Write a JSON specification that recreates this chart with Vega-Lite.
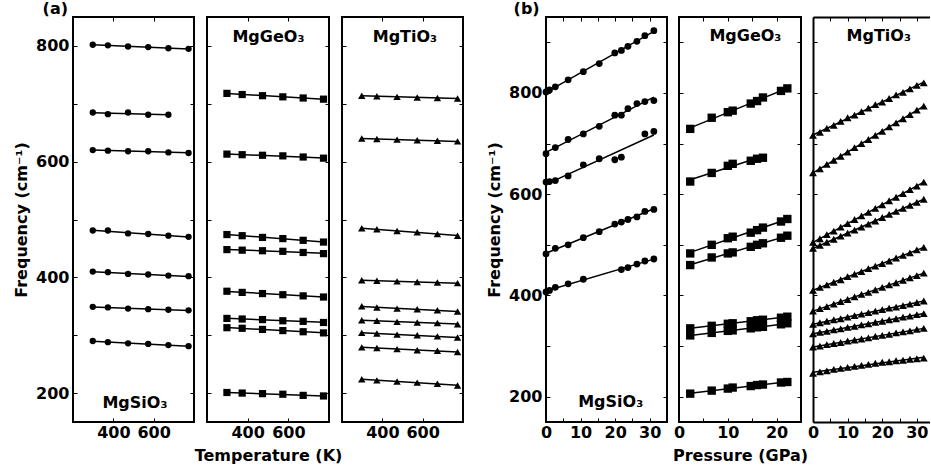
{
"$schema": "https://vega.github.io/schema/vega-lite/v6.json",
"padding": {"left": 12, "top": 0, "right": 0, "bottom": 0},
"datasets": {
"aSi": [
{"s":1,"x":298,"y":802},{"s":1,"x":373,"y":801},{"s":1,"x":473,"y":799},{"s":1,"x":573,"y":798},{"s":1,"x":673,"y":796},{"s":1,"x":773,"y":795},
{"s":2,"x":298,"y":685},{"s":2,"x":373,"y":682},{"s":2,"x":473,"y":685},{"s":2,"x":573,"y":681},{"s":2,"x":673,"y":681},
{"s":3,"x":298,"y":620},{"s":3,"x":373,"y":619},{"s":3,"x":473,"y":618},{"s":3,"x":573,"y":618},{"s":3,"x":673,"y":616},{"s":3,"x":773,"y":615},
{"s":4,"x":298,"y":481},{"s":4,"x":373,"y":481},{"s":4,"x":473,"y":476},{"s":4,"x":573,"y":475},{"s":4,"x":673,"y":472},{"s":4,"x":773,"y":470},
{"s":5,"x":298,"y":410},{"s":5,"x":373,"y":409},{"s":5,"x":473,"y":406},{"s":5,"x":573,"y":405},{"s":5,"x":673,"y":403},{"s":5,"x":773,"y":402},
{"s":6,"x":298,"y":349},{"s":6,"x":373,"y":348},{"s":6,"x":473,"y":346},{"s":6,"x":573,"y":345},{"s":6,"x":673,"y":344},{"s":6,"x":773,"y":343},
{"s":7,"x":298,"y":290},{"s":7,"x":373,"y":288},{"s":7,"x":473,"y":286},{"s":7,"x":573,"y":285},{"s":7,"x":673,"y":283},{"s":7,"x":773,"y":281}
],
"aGe": [
{"s":1,"x":298,"y":718},{"s":1,"x":373,"y":716},{"s":1,"x":473,"y":714},{"s":1,"x":573,"y":712},{"s":1,"x":673,"y":710},{"s":1,"x":773,"y":708},
{"s":2,"x":298,"y":613},{"s":2,"x":373,"y":612},{"s":2,"x":473,"y":611},{"s":2,"x":573,"y":610},{"s":2,"x":673,"y":608},{"s":2,"x":773,"y":606},
{"s":3,"x":298,"y":474},{"s":3,"x":373,"y":472},{"s":3,"x":473,"y":469},{"s":3,"x":573,"y":467},{"s":3,"x":673,"y":464},{"s":3,"x":773,"y":461},
{"s":4,"x":298,"y":448},{"s":4,"x":373,"y":447},{"s":4,"x":473,"y":446},{"s":4,"x":573,"y":445},{"s":4,"x":673,"y":443},{"s":4,"x":773,"y":441},
{"s":5,"x":298,"y":376},{"s":5,"x":373,"y":374},{"s":5,"x":473,"y":372},{"s":5,"x":573,"y":370},{"s":5,"x":673,"y":368},{"s":5,"x":773,"y":366},
{"s":6,"x":298,"y":329},{"s":6,"x":373,"y":328},{"s":6,"x":473,"y":327},{"s":6,"x":573,"y":325},{"s":6,"x":673,"y":324},{"s":6,"x":773,"y":322},
{"s":7,"x":298,"y":313},{"s":7,"x":373,"y":312},{"s":7,"x":473,"y":310},{"s":7,"x":573,"y":308},{"s":7,"x":673,"y":306},{"s":7,"x":773,"y":304},
{"s":8,"x":298,"y":201},{"s":8,"x":373,"y":200},{"s":8,"x":473,"y":199},{"s":8,"x":573,"y":198},{"s":8,"x":673,"y":196},{"s":8,"x":773,"y":195}
],
"aTi": [
{"s":1,"x":298,"y":714},{"s":1,"x":373,"y":713},{"s":1,"x":473,"y":712},{"s":1,"x":573,"y":711},{"s":1,"x":673,"y":710},{"s":1,"x":773,"y":709},
{"s":2,"x":298,"y":640},{"s":2,"x":373,"y":639},{"s":2,"x":473,"y":638},{"s":2,"x":573,"y":637},{"s":2,"x":673,"y":636},{"s":2,"x":773,"y":635},
{"s":3,"x":298,"y":485},{"s":3,"x":373,"y":483},{"s":3,"x":473,"y":480},{"s":3,"x":573,"y":478},{"s":3,"x":673,"y":475},{"s":3,"x":773,"y":472},
{"s":4,"x":298,"y":395},{"s":4,"x":373,"y":394},{"s":4,"x":473,"y":393},{"s":4,"x":573,"y":392},{"s":4,"x":673,"y":391},{"s":4,"x":773,"y":390},
{"s":5,"x":298,"y":350},{"s":5,"x":373,"y":348},{"s":5,"x":473,"y":346},{"s":5,"x":573,"y":345},{"s":5,"x":673,"y":343},{"s":5,"x":773,"y":341},
{"s":6,"x":298,"y":326},{"s":6,"x":373,"y":325},{"s":6,"x":473,"y":323},{"s":6,"x":573,"y":322},{"s":6,"x":673,"y":321},{"s":6,"x":773,"y":319},
{"s":7,"x":298,"y":304},{"s":7,"x":373,"y":303},{"s":7,"x":473,"y":301},{"s":7,"x":573,"y":300},{"s":7,"x":673,"y":298},{"s":7,"x":773,"y":296},
{"s":8,"x":298,"y":279},{"s":8,"x":373,"y":278},{"s":8,"x":473,"y":276},{"s":8,"x":573,"y":274},{"s":8,"x":673,"y":273},{"s":8,"x":773,"y":271},
{"s":9,"x":298,"y":224},{"s":9,"x":373,"y":222},{"s":9,"x":473,"y":220},{"s":9,"x":573,"y":218},{"s":9,"x":673,"y":216},{"s":9,"x":773,"y":213}
],
"bSi": [
{"s":1,"x":0,"y":802},{"s":1,"x":1,"y":806},{"s":1,"x":2.7,"y":812},{"s":1,"x":6.4,"y":826},{"s":1,"x":10.8,"y":842},{"s":1,"x":15.4,"y":858},{"s":1,"x":19.9,"y":879},{"s":1,"x":21.8,"y":884},{"s":1,"x":23.7,"y":892},{"s":1,"x":26.3,"y":902},{"s":1,"x":28.6,"y":913},{"s":1,"x":31.2,"y":923},
{"s":2,"x":0,"y":680},{"s":2,"x":2.7,"y":692},{"s":2,"x":6.4,"y":708},{"s":2,"x":10.8,"y":719},{"s":2,"x":15.4,"y":734},{"s":2,"x":19.9,"y":756},{"s":2,"x":21.8,"y":756},{"s":2,"x":23.7,"y":769},{"s":2,"x":26.3,"y":779},{"s":2,"x":28.6,"y":783},{"s":2,"x":31.2,"y":785},
{"s":3,"x":0,"y":624},{"s":3,"x":1,"y":625},{"s":3,"x":2.7,"y":627},{"s":3,"x":6.4,"y":636},{"s":3,"x":10.8,"y":658},{"s":3,"x":15.4,"y":670},{"s":3,"x":19.9,"y":668},{"s":3,"x":21.8,"y":673},{"s":3,"x":28.6,"y":719},{"s":3,"x":31.2,"y":724},
{"s":4,"x":0,"y":482},{"s":4,"x":2.7,"y":493},{"s":4,"x":6.4,"y":500},{"s":4,"x":10.8,"y":514},{"s":4,"x":15.4,"y":526},{"s":4,"x":19.9,"y":541},{"s":4,"x":21.8,"y":545},{"s":4,"x":23.7,"y":550},{"s":4,"x":26.3,"y":555},{"s":4,"x":28.6,"y":566},{"s":4,"x":31.2,"y":570},
{"s":5,"x":0,"y":407},{"s":5,"x":1,"y":410},{"s":5,"x":2.7,"y":416},{"s":5,"x":6.4,"y":423},{"s":5,"x":10.8,"y":432},{"s":5,"x":21.8,"y":451},{"s":5,"x":23.7,"y":455},{"s":5,"x":26.3,"y":462},{"s":5,"x":28.6,"y":468},{"s":5,"x":31.2,"y":472}
],
"bGe": [
{"s":1,"x":2.3,"y":729},{"s":1,"x":6.7,"y":751},{"s":1,"x":10,"y":762},{"s":1,"x":11,"y":765},{"s":1,"x":14.7,"y":779},{"s":1,"x":16,"y":784},{"s":1,"x":17.2,"y":791},{"s":1,"x":20.9,"y":804},{"s":1,"x":22.2,"y":809},
{"s":2,"x":2.3,"y":625},{"s":2,"x":6.7,"y":642},{"s":2,"x":10,"y":656},{"s":2,"x":11,"y":660},{"s":2,"x":14.7,"y":666},{"s":2,"x":16,"y":670},{"s":2,"x":17.2,"y":672},
{"s":3,"x":2.3,"y":483},{"s":3,"x":6.7,"y":500},{"s":3,"x":10,"y":513},{"s":3,"x":11,"y":516},{"s":3,"x":14.7,"y":524},{"s":3,"x":16,"y":529},{"s":3,"x":17.2,"y":534},{"s":3,"x":20.9,"y":546},{"s":3,"x":22.2,"y":551},
{"s":4,"x":2.3,"y":460},{"s":4,"x":6.7,"y":475},{"s":4,"x":10,"y":483},{"s":4,"x":11,"y":485},{"s":4,"x":14.7,"y":496},{"s":4,"x":16,"y":500},{"s":4,"x":17.2,"y":503},{"s":4,"x":20.9,"y":514},{"s":4,"x":22.2,"y":518},
{"s":5,"x":2.3,"y":335},{"s":5,"x":6.7,"y":340},{"s":5,"x":10,"y":344},{"s":5,"x":11,"y":345},{"s":5,"x":14.7,"y":349},{"s":5,"x":16,"y":351},{"s":5,"x":17.2,"y":352},{"s":5,"x":20.9,"y":356},{"s":5,"x":22.2,"y":358},
{"s":6,"x":2.3,"y":321},{"s":6,"x":6.7,"y":326},{"s":6,"x":10,"y":330},{"s":6,"x":11,"y":331},{"s":6,"x":14.7,"y":335},{"s":6,"x":16,"y":337},{"s":6,"x":17.2,"y":338},{"s":6,"x":20.9,"y":343},{"s":6,"x":22.2,"y":345},
{"s":7,"x":2.3,"y":206},{"s":7,"x":6.7,"y":212},{"s":7,"x":10,"y":216},{"s":7,"x":11,"y":218},{"s":7,"x":14.7,"y":221},{"s":7,"x":16,"y":223},{"s":7,"x":17.2,"y":224},{"s":7,"x":20.9,"y":228},{"s":7,"x":22.2,"y":229}
],
"bTi": [
{"s":1,"x":0,"y":716},{"s":1,"x":2,"y":722},{"s":1,"x":4,"y":730},{"s":1,"x":6,"y":736},{"s":1,"x":8,"y":744},{"s":1,"x":10,"y":751},{"s":1,"x":12,"y":756},{"s":1,"x":14,"y":763},{"s":1,"x":16,"y":770},{"s":1,"x":18,"y":777},{"s":1,"x":20,"y":782},{"s":1,"x":22,"y":789},{"s":1,"x":24,"y":796},{"s":1,"x":26,"y":801},{"s":1,"x":28,"y":808},{"s":1,"x":30,"y":815},{"s":1,"x":32,"y":820},
{"s":2,"x":0,"y":642},{"s":2,"x":2,"y":650},{"s":2,"x":4,"y":659},{"s":2,"x":6,"y":667},{"s":2,"x":8,"y":675},{"s":2,"x":10,"y":683},{"s":2,"x":12,"y":692},{"s":2,"x":14,"y":700},{"s":2,"x":16,"y":708},{"s":2,"x":18,"y":716},{"s":2,"x":20,"y":724},{"s":2,"x":22,"y":733},{"s":2,"x":24,"y":741},{"s":2,"x":26,"y":749},{"s":2,"x":28,"y":757},{"s":2,"x":30,"y":766},{"s":2,"x":32,"y":774},
{"s":3,"x":0,"y":505},{"s":3,"x":2,"y":512},{"s":3,"x":4,"y":520},{"s":3,"x":6,"y":527},{"s":3,"x":8,"y":535},{"s":3,"x":10,"y":542},{"s":3,"x":12,"y":550},{"s":3,"x":14,"y":557},{"s":3,"x":16,"y":564},{"s":3,"x":18,"y":572},{"s":3,"x":20,"y":579},{"s":3,"x":22,"y":587},{"s":3,"x":24,"y":594},{"s":3,"x":26,"y":601},{"s":3,"x":28,"y":609},{"s":3,"x":30,"y":616},{"s":3,"x":32,"y":624},
{"s":4,"x":0,"y":493},{"s":4,"x":2,"y":499},{"s":4,"x":4,"y":505},{"s":4,"x":6,"y":511},{"s":4,"x":8,"y":517},{"s":4,"x":10,"y":523},{"s":4,"x":12,"y":529},{"s":4,"x":14,"y":535},{"s":4,"x":16,"y":541},{"s":4,"x":18,"y":547},{"s":4,"x":20,"y":554},{"s":4,"x":22,"y":560},{"s":4,"x":24,"y":566},{"s":4,"x":26,"y":572},{"s":4,"x":28,"y":578},{"s":4,"x":30,"y":584},{"s":4,"x":32,"y":590},
{"s":5,"x":0,"y":410},{"s":5,"x":2,"y":416},{"s":5,"x":4,"y":421},{"s":5,"x":6,"y":426},{"s":5,"x":8,"y":431},{"s":5,"x":10,"y":437},{"s":5,"x":12,"y":442},{"s":5,"x":14,"y":447},{"s":5,"x":16,"y":453},{"s":5,"x":18,"y":458},{"s":5,"x":20,"y":463},{"s":5,"x":22,"y":468},{"s":5,"x":24,"y":474},{"s":5,"x":26,"y":479},{"s":5,"x":28,"y":484},{"s":5,"x":30,"y":490},{"s":5,"x":32,"y":495},
{"s":6,"x":0,"y":369},{"s":6,"x":2,"y":374},{"s":6,"x":4,"y":378},{"s":6,"x":6,"y":383},{"s":6,"x":8,"y":388},{"s":6,"x":10,"y":392},{"s":6,"x":12,"y":397},{"s":6,"x":14,"y":402},{"s":6,"x":16,"y":406},{"s":6,"x":18,"y":411},{"s":6,"x":20,"y":416},{"s":6,"x":22,"y":421},{"s":6,"x":24,"y":425},{"s":6,"x":26,"y":430},{"s":6,"x":28,"y":435},{"s":6,"x":30,"y":439},{"s":6,"x":32,"y":444},
{"s":7,"x":0,"y":343},{"s":7,"x":2,"y":346},{"s":7,"x":4,"y":349},{"s":7,"x":6,"y":352},{"s":7,"x":8,"y":354},{"s":7,"x":10,"y":357},{"s":7,"x":12,"y":360},{"s":7,"x":14,"y":363},{"s":7,"x":16,"y":366},{"s":7,"x":18,"y":369},{"s":7,"x":20,"y":372},{"s":7,"x":22,"y":375},{"s":7,"x":24,"y":377},{"s":7,"x":26,"y":380},{"s":7,"x":28,"y":383},{"s":7,"x":30,"y":386},{"s":7,"x":32,"y":389},
{"s":8,"x":0,"y":324},{"s":8,"x":2,"y":327},{"s":8,"x":4,"y":329},{"s":8,"x":6,"y":332},{"s":8,"x":8,"y":334},{"s":8,"x":10,"y":337},{"s":8,"x":12,"y":339},{"s":8,"x":14,"y":342},{"s":8,"x":16,"y":344},{"s":8,"x":18,"y":347},{"s":8,"x":20,"y":349},{"s":8,"x":22,"y":352},{"s":8,"x":24,"y":354},{"s":8,"x":26,"y":357},{"s":8,"x":28,"y":359},{"s":8,"x":30,"y":362},{"s":8,"x":32,"y":364},
{"s":9,"x":0,"y":298},{"s":9,"x":2,"y":300},{"s":9,"x":4,"y":303},{"s":9,"x":6,"y":305},{"s":9,"x":8,"y":307},{"s":9,"x":10,"y":310},{"s":9,"x":12,"y":312},{"s":9,"x":14,"y":314},{"s":9,"x":16,"y":316},{"s":9,"x":18,"y":319},{"s":9,"x":20,"y":321},{"s":9,"x":22,"y":323},{"s":9,"x":24,"y":326},{"s":9,"x":26,"y":328},{"s":9,"x":28,"y":330},{"s":9,"x":30,"y":333},{"s":9,"x":32,"y":335},
{"s":10,"x":0,"y":246},{"s":10,"x":2,"y":249},{"s":10,"x":4,"y":251},{"s":10,"x":6,"y":254},{"s":10,"x":8,"y":256},{"s":10,"x":10,"y":258},{"s":10,"x":12,"y":260},{"s":10,"x":14,"y":262},{"s":10,"x":16,"y":264},{"s":10,"x":18,"y":266},{"s":10,"x":20,"y":268},{"s":10,"x":22,"y":269},{"s":10,"x":24,"y":271},{"s":10,"x":26,"y":272},{"s":10,"x":28,"y":274},{"s":10,"x":30,"y":275},{"s":10,"x":32,"y":276}
]
},
"spacing": 20,
"hconcat": [
{
"title": {"text": "(a)", "dx": 30},
"spacing": 13,
"bounds": "flush",
"hconcat": [
{
"width": 121, "height": 405,
"data": {"name": "aSi"},
"resolve": {"axis": {"x": "independent", "y": "independent"}},
"layer": [
{"transform": [{"regression": "y", "on": "x", "groupby": ["s"]}],
 "mark": {"type": "line", "color": "black", "strokeWidth": 1.5},
 "encoding": {
  "x": {"field": "x", "type": "quantitative", "scale": {"domain": [200, 800], "nice": false, "zero": false}, "axis": {"orient": "bottom", "values": [400, 600], "title": null}},
  "y": {"field": "y", "type": "quantitative", "scale": {"domain": [150, 850], "nice": false, "zero": false}, "axis": {"orient": "left", "values": [200, 300, 400, 500, 600, 700, 800], "labelExpr": "datum.value % 200 == 0 ? datum.label : ''", "labelPadding": 8, "title": "Frequency (cm⁻¹)", "titlePadding": 6}},
  "detail": {"field": "s", "type": "nominal"}}},
{"mark": {"type": "point", "shape": "circle", "filled": true, "color": "black", "opacity": 1, "size": 40, "strokeWidth": 0},
 "encoding": {
  "x": {"field": "x", "type": "quantitative", "axis": {"orient": "top", "values": [400, 600], "labels": false, "title": null}},
  "y": {"field": "y", "type": "quantitative", "axis": {"orient": "right", "values": [200, 300, 400, 500, 600, 700, 800], "labels": false, "title": null}}}},
{"data": {"values": [{}]},
 "mark": {"type": "text", "text": "MgSiO₃", "fontSize": 16, "fontWeight": "bold", "color": "black"},
 "encoding": {"x": {"datum": 507, "type": "quantitative", "axis": null}, "y": {"datum": 182, "type": "quantitative", "axis": null}}}
]
},
{
"width": 122, "height": 405,
"data": {"name": "aGe"},
"resolve": {"axis": {"x": "independent", "y": "independent"}},
"layer": [
{"transform": [{"regression": "y", "on": "x", "groupby": ["s"]}],
 "mark": {"type": "line", "color": "black", "strokeWidth": 1.5},
 "encoding": {
  "x": {"field": "x", "type": "quantitative", "scale": {"domain": [200, 800], "nice": false, "zero": false}, "axis": {"orient": "bottom", "values": [400, 600], "title": "Temperature (K)", "titlePadding": 7}},
  "y": {"field": "y", "type": "quantitative", "scale": {"domain": [150, 850], "nice": false, "zero": false}, "axis": {"orient": "left", "values": [200, 300, 400, 500, 600, 700, 800], "labels": false, "title": null}},
  "detail": {"field": "s", "type": "nominal"}}},
{"mark": {"type": "point", "shape": "square", "filled": true, "color": "black", "opacity": 1, "size": 52, "strokeWidth": 0},
 "encoding": {
  "x": {"field": "x", "type": "quantitative", "axis": {"orient": "top", "values": [400, 600], "labels": false, "title": null}},
  "y": {"field": "y", "type": "quantitative", "axis": {"orient": "right", "values": [200, 300, 400, 500, 600, 700, 800], "labels": false, "title": null}}}},
{"data": {"values": [{}]},
 "mark": {"type": "text", "text": "MgGeO₃", "fontSize": 16, "fontWeight": "bold", "color": "black"},
 "encoding": {"x": {"datum": 502, "type": "quantitative", "axis": null}, "y": {"datum": 815, "type": "quantitative", "axis": null}}}
]
},
{
"width": 121, "height": 405,
"data": {"name": "aTi"},
"resolve": {"axis": {"x": "independent", "y": "independent"}},
"layer": [
{"transform": [{"regression": "y", "on": "x", "groupby": ["s"]}],
 "mark": {"type": "line", "color": "black", "strokeWidth": 1.5},
 "encoding": {
  "x": {"field": "x", "type": "quantitative", "scale": {"domain": [200, 800], "nice": false, "zero": false}, "axis": {"orient": "bottom", "values": [400, 600], "title": null}},
  "y": {"field": "y", "type": "quantitative", "scale": {"domain": [150, 850], "nice": false, "zero": false}, "axis": {"orient": "left", "values": [200, 300, 400, 500, 600, 700, 800], "labels": false, "title": null}},
  "detail": {"field": "s", "type": "nominal"}}},
{"mark": {"type": "point", "shape": "triangle-up", "filled": true, "color": "black", "opacity": 1, "size": 55, "strokeWidth": 0},
 "encoding": {
  "x": {"field": "x", "type": "quantitative", "axis": {"orient": "top", "values": [400, 600], "labels": false, "title": null}},
  "y": {"field": "y", "type": "quantitative", "axis": {"orient": "right", "values": [200, 300, 400, 500, 600, 700, 800], "labels": false, "title": null}}}},
{"data": {"values": [{}]},
 "mark": {"type": "text", "text": "MgTiO₃", "fontSize": 16, "fontWeight": "bold", "color": "black"},
 "encoding": {"x": {"datum": 512, "type": "quantitative", "axis": null}, "y": {"datum": 815, "type": "quantitative", "axis": null}}}
]
}
]
},
{
"title": {"text": "(b)", "dx": 28},
"spacing": 12,
"bounds": "flush",
"hconcat": [
{
"width": 121, "height": 405,
"data": {"name": "bSi"},
"resolve": {"axis": {"x": "independent", "y": "independent"}},
"layer": [
{"transform": [{"regression": "y", "on": "x", "groupby": ["s"]}],
 "mark": {"type": "line", "color": "black", "strokeWidth": 1.5},
 "encoding": {
  "x": {"field": "x", "type": "quantitative", "scale": {"domain": [0, 35], "nice": false, "zero": false}, "axis": {"orient": "bottom", "values": [0, 5, 10, 15, 20, 25, 30], "labelExpr": "datum.value % 10 == 0 ? datum.label : ''", "title": null}},
  "y": {"field": "y", "type": "quantitative", "scale": {"domain": [150, 950], "nice": false, "zero": false}, "axis": {"orient": "left", "values": [200, 300, 400, 500, 600, 700, 800, 900], "labelExpr": "datum.value % 200 == 0 ? datum.label : ''", "labelPadding": 8, "title": "Frequency (cm⁻¹)", "titlePadding": 6}},
  "detail": {"field": "s", "type": "nominal"}}},
{"mark": {"type": "point", "shape": "circle", "filled": true, "color": "black", "opacity": 1, "size": 46, "strokeWidth": 0},
 "encoding": {
  "x": {"field": "x", "type": "quantitative", "axis": {"orient": "top", "values": [0, 5, 10, 15, 20, 25, 30], "labels": false, "title": null}},
  "y": {"field": "y", "type": "quantitative", "axis": {"orient": "right", "values": [200, 300, 400, 500, 600, 700, 800, 900], "labels": false, "title": null}}}},
{"data": {"values": [{}]},
 "mark": {"type": "text", "text": "MgSiO₃", "fontSize": 16, "fontWeight": "bold", "color": "black"},
 "encoding": {"x": {"datum": 18.7, "type": "quantitative", "axis": null}, "y": {"datum": 189, "type": "quantitative", "axis": null}}}
]
},
{
"width": 122, "height": 405,
"data": {"name": "bGe"},
"resolve": {"axis": {"x": "independent", "y": "independent"}},
"layer": [
{"transform": [{"regression": "y", "on": "x", "groupby": ["s"]}],
 "mark": {"type": "line", "color": "black", "strokeWidth": 1.5},
 "encoding": {
  "x": {"field": "x", "type": "quantitative", "scale": {"domain": [0, 25], "nice": false, "zero": false}, "axis": {"orient": "bottom", "values": [0, 5, 10, 15, 20], "labelExpr": "datum.value % 10 == 0 ? datum.label : ''", "title": "Pressure (GPa)", "titlePadding": 7}},
  "y": {"field": "y", "type": "quantitative", "scale": {"domain": [150, 950], "nice": false, "zero": false}, "axis": {"orient": "left", "values": [200, 300, 400, 500, 600, 700, 800, 900], "labels": false, "title": null}},
  "detail": {"field": "s", "type": "nominal"}}},
{"mark": {"type": "point", "shape": "square", "filled": true, "color": "black", "opacity": 1, "size": 70, "strokeWidth": 0},
 "encoding": {
  "x": {"field": "x", "type": "quantitative", "axis": {"orient": "top", "values": [0, 5, 10, 15, 20], "labels": false, "title": null}},
  "y": {"field": "y", "type": "quantitative", "axis": {"orient": "right", "values": [200, 300, 400, 500, 600, 700, 800, 900], "labels": false, "title": null}}}},
{"data": {"values": [{}]},
 "mark": {"type": "text", "text": "MgGeO₃", "fontSize": 16, "fontWeight": "bold", "color": "black"},
 "encoding": {"x": {"datum": 13.6, "type": "quantitative", "axis": null}, "y": {"datum": 912, "type": "quantitative", "axis": null}}}
]
},
{
"width": 117, "height": 405,
"view": {"stroke": null},
"data": {"name": "bTi"},
"resolve": {"axis": {"x": "independent", "y": "independent"}},
"layer": [
{"transform": [{"regression": "y", "on": "x", "groupby": ["s"]}],
 "mark": {"type": "line", "color": "black", "strokeWidth": 1.5},
 "encoding": {
  "x": {"field": "x", "type": "quantitative", "scale": {"domain": [0, 33.8], "nice": false, "zero": false}, "axis": {"orient": "bottom", "values": [0, 5, 10, 15, 20, 25, 30], "labelExpr": "datum.value % 10 == 0 ? datum.label : ''", "title": null, "domain": true, "domainColor": "black", "domainWidth": 2}},
  "y": {"field": "y", "type": "quantitative", "scale": {"domain": [150, 950], "nice": false, "zero": false}, "axis": {"orient": "left", "values": [200, 300, 400, 500, 600, 700, 800, 900], "labels": false, "title": null, "domain": true, "domainColor": "black", "domainWidth": 2}},
  "detail": {"field": "s", "type": "nominal"}}},
{"mark": {"type": "point", "shape": "triangle-up", "filled": true, "color": "black", "opacity": 1, "size": 62, "strokeWidth": 0},
 "encoding": {
  "x": {"field": "x", "type": "quantitative", "axis": {"orient": "top", "values": [0, 5, 10, 15, 20, 25, 30], "labels": false, "title": null, "domain": true, "domainColor": "black", "domainWidth": 2}},
  "y": {"field": "y", "type": "quantitative", "axis": null}}},
{"data": {"values": [{}]},
 "mark": {"type": "text", "text": "MgTiO₃", "fontSize": 16, "fontWeight": "bold", "color": "black"},
 "encoding": {"x": {"datum": 19, "type": "quantitative", "axis": null}, "y": {"datum": 912, "type": "quantitative", "axis": null}}}
]
}
]
}
],
"config": {
 "font": "DejaVu Sans",
 "view": {"stroke": "black", "strokeWidth": 2},
 "axis": {"domain": false, "grid": false, "tickSize": -4, "tickWidth": 1, "tickColor": "black", "labelFont": "DejaVu Sans", "labelFontSize": 16, "labelFontWeight": "bold", "labelColor": "black", "labelPadding": 0, "labelOverlap": false, "labelFlush": false, "titleFont": "DejaVu Sans", "titleFontSize": 16, "titleFontWeight": "bold", "titleColor": "black", "minExtent": 0},
 "axisBottom": {"labelPadding": 6},
 "title": {"font": "DejaVu Sans", "fontSize": 16, "fontWeight": "bold", "color": "black", "anchor": "start", "offset": -1}
}
}
